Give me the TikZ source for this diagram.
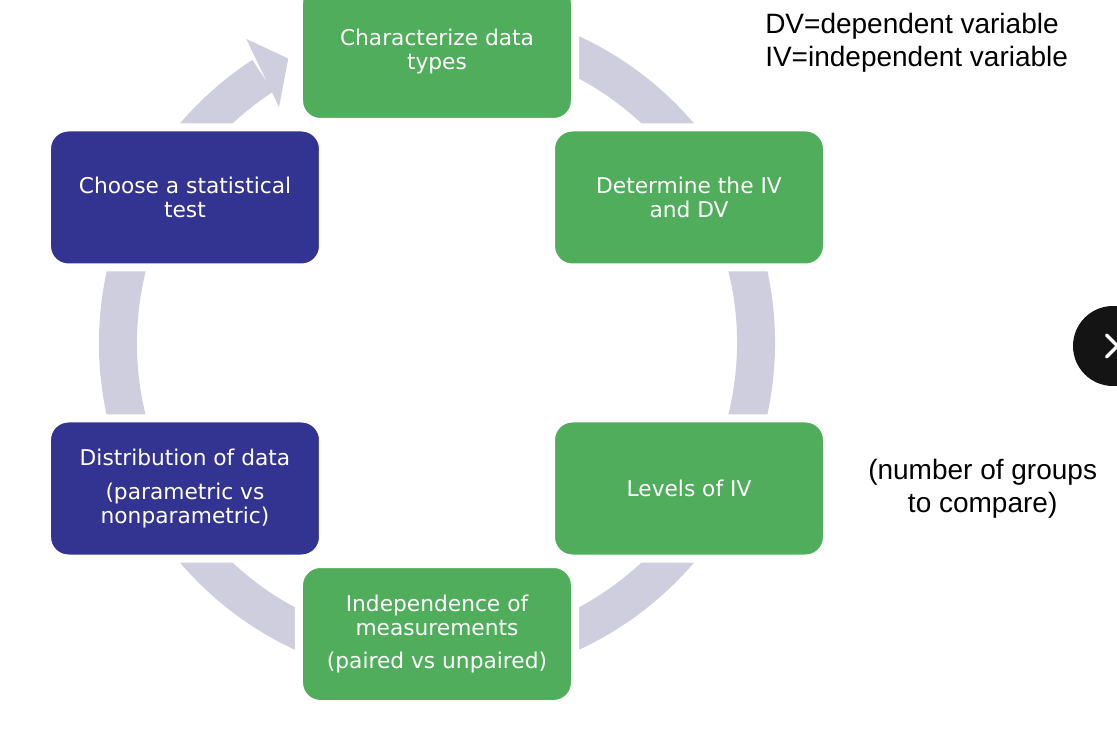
\documentclass[tikz,border=0pt]{standalone}
\usepackage{fontspec}
\setmainfont{DejaVu Sans}
\newfontfamily\notefont{Liberation Sans}
\usetikzlibrary{positioning}
\definecolor{boxgreen}{RGB}{80,173,92}
\definecolor{boxblue}{RGB}{51,51,145}
\definecolor{ringgray}{RGB}{206,206,222}
\tikzset{
  stage/.style={rounded corners=16pt, draw=white, line width=6pt, minimum width=207pt,
    minimum height=105pt, inner sep=0pt, text=white, align=center,
    font=\fontsize{16.3}{18}\selectfont},
  greenstage/.style={stage, fill=boxgreen},
  bluestage/.style={stage, fill=boxblue},
  note/.style={inner sep=0pt, font=\notefont\fontsize{21}{24.75}\selectfont}
}

\begin{document}
\begin{tikzpicture}[x=0.75pt,y=0.75pt]
            \useasboundingbox (-437,-388) rectangle (680,343);
            % ring and its head
            \draw[ringgray, line width=28.5pt] (80:319) arc[start angle=80, end angle=-236.9, radius=319];
            \fill[ringgray] (122.1:359) -- (117.6:321) -- (123.8:284) -- cycle;
            \node[greenstage] (chartype) at (90:291) {Characterize data\\types};
            \node[greenstage] (ivdv) at (30:291) {Determine the IV\\and DV};
            \node[greenstage] (levels) at (-30:291) {Levels of IV};
            \node[greenstage] (indep) at (-90:291) {Independence of\\measurements\\[7pt](paired vs unpaired)};
            \node[bluestage] (distrib) at (-150:291) {Distribution of data\\[7pt](parametric vs\\nonparametric)};
            \node[bluestage] (choose) at (150:291) {Choose a statistical\\test};
            \node[note, anchor=west, align=left] (abbrev) at (328,300.5) {DV=dependent variable\\IV=independent variable};
            \node[note, align=center, right=27.75pt of levels] (groups) {(number of groups\\to compare)};
            % next button at the edge
            \node[circle, fill=black!92, minimum size=60pt, inner sep=0pt] (nextbtn) at (676,-3) {};
            \draw[white, line width=2.5pt, line cap=round] (669.5,8) -- (680.5,-3) -- (669.5,-14);
        \end{tikzpicture}
\end{document}
